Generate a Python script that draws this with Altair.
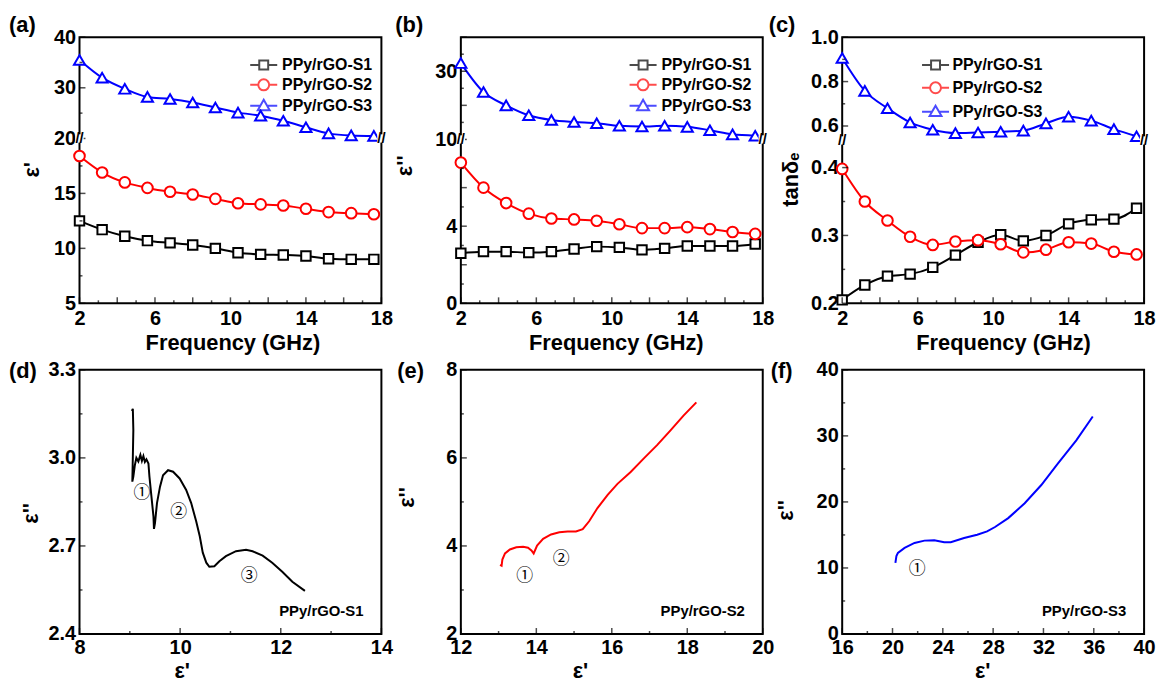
import altair as alt
import pandas as pd

FONT = "Liberation Sans"
CIRCLE_FONT = "Noto Sans CJK SC"

# ---------------- data ----------------
SERIES = ["PPy/rGO-S1", "PPy/rGO-S2", "PPy/rGO-S3"]
FREQ = [2.0, 3.2, 4.4, 5.6, 6.8, 8.0, 9.2, 10.4, 11.6, 12.8, 14.0, 15.2, 16.4, 17.6]

EPS_REAL_S1 = [12.5, 11.7, 11.1, 10.7, 10.5, 10.3, 10.0, 9.6, 9.45, 9.4, 9.3, 9.05, 9.0, 9.0]
EPS_REAL_S2 = [18.4, 16.9, 16.0, 15.5, 15.15, 14.9, 14.5, 14.1, 14.0, 13.9, 13.6, 13.3, 13.2, 13.1]
EPS_REAL_S3 = [35.5, 32.0, 29.8, 28.2, 27.8, 27.1, 26.1, 25.1, 24.5, 23.5, 22.2, 21.0, 20.6, 20.5]

EPS_IMAG_S1 = [2.6, 2.68, 2.68, 2.63, 2.68, 2.82, 2.94, 2.9, 2.77, 2.85, 2.97, 2.97, 2.97, 3.08]
EPS_IMAG_S2 = [7.3, 6.0, 5.2, 4.65, 4.4, 4.35, 4.28, 4.1, 3.9, 3.9, 3.95, 3.85, 3.7, 3.6]
EPS_IMAG_S3 = [32.4, 23.9, 20.0, 17.1, 15.7, 15.1, 14.75, 14.0, 13.8, 14.0, 13.7, 12.7, 11.5, 11.1]

TAN_S1 = [0.205, 0.227, 0.24, 0.243, 0.253, 0.271, 0.29, 0.301, 0.292, 0.3, 0.317, 0.323, 0.324, 0.34]
TAN_S2 = [0.398, 0.35, 0.322, 0.298, 0.286, 0.291, 0.293, 0.287, 0.275, 0.279, 0.29, 0.288, 0.276, 0.272]
TAN_S3 = [0.906, 0.758, 0.68, 0.616, 0.583, 0.568, 0.571, 0.574, 0.579, 0.612, 0.642, 0.624, 0.586, 0.554]

# Cole-Cole curves (from low to high frequency)
D_EPS_REAL = [12.48, 12.23, 12.03, 11.83, 11.64, 11.44, 11.31, 11.11, 10.91, 10.78, 10.68, 10.58,
              10.52, 10.45, 10.39, 10.32, 10.22, 10.12, 9.99, 9.86, 9.76, 9.66, 9.60, 9.54, 9.50,
              9.48, 9.47, 9.43, 9.39, 9.37, 9.33, 9.30, 9.27, 9.24, 9.21, 9.17, 9.13, 9.10, 9.07,
              9.05, 9.06, 9.07, 9.06, 9.04]
D_EPS_IMAG = [2.547, 2.578, 2.612, 2.643, 2.667, 2.682, 2.687, 2.682, 2.665, 2.648, 2.631, 2.629,
              2.643, 2.677, 2.733, 2.783, 2.846, 2.891, 2.930, 2.953, 2.958, 2.941, 2.902, 2.846,
              2.778, 2.758, 2.800, 2.868, 2.936, 2.981, 2.995, 2.986, 3.006, 2.990, 3.010, 2.988,
              3.000, 2.975, 2.936, 2.919, 3.003, 3.094, 3.167, 3.160]

E_EPS_REAL = [18.24, 17.90, 17.55, 17.20, 16.85, 16.50, 16.15, 15.89, 15.62, 15.40, 15.23, 15.05,
              14.83, 14.61, 14.39, 14.18, 14.02, 13.93, 13.87, 13.78, 13.65, 13.47, 13.30, 13.17,
              13.10, 13.08, 13.04]
E_EPS_IMAG = [7.26, 6.96, 6.62, 6.29, 5.99, 5.68, 5.41, 5.16, 4.86, 4.56, 4.38, 4.33,
              4.33, 4.31, 4.26, 4.16, 4.01, 3.83, 3.90, 3.96, 3.98, 3.97, 3.92, 3.83,
              3.69, 3.55, 3.57]

F_EPS_REAL = [35.92, 34.61, 33.14, 31.83, 30.51, 29.20, 28.15, 27.52, 26.73, 25.69, 24.63, 24.11,
              23.32, 22.54, 21.75, 20.96, 20.43, 20.31, 20.23]
F_EPS_IMAG = [32.93, 29.32, 25.81, 22.56, 19.80, 17.55, 16.20, 15.54, 15.04, 14.54, 13.89, 13.89,
              14.19, 14.14, 13.79, 13.04, 12.29, 11.79, 10.78]

# circled annotations (data coordinates)
D_MARK_X = [9.24, 9.97, 11.37]
D_MARK_Y = [2.88, 2.814, 2.597]
D_MARK_T = ["①", "②", "③"]
E_MARK_X = [13.69, 14.66]
E_MARK_Y = [3.31, 3.71]
E_MARK_T = ["①", "②"]
F_MARK_X = [21.96]
F_MARK_Y = [9.88]
F_MARK_T = ["①"]

# ---------------- styles ----------------
COLORS = ["#000000", "#ff0000", "#0000ff"]
MARKERS = ["square", "circle", "triangle-up"]
MARKER_SIZES = [90, 115, 125]
LEGEND_PATHS = [
    "M-2.72,0H-0.9M0.9,0H2.72M-0.9,-0.9H0.9V0.9H-0.9Z",
    "M-2.72,0H-1.1M1.1,0H2.72M-1.1,0A1.1,1.1,0,1,0,1.1,0A1.1,1.1,0,1,0,-1.1,0Z",
    "M-2.72,0H-0.69M0.69,0H2.72M0,-1.2L1.2,0.9H-1.2Z",
]
X_MAJOR = [2, 4, 6, 8, 10, 12, 14, 16, 18]
X_MINOR = [3, 5, 7, 9, 11, 13, 15, 17]


def xticks(vals, xs, H, L):
    return alt.Chart(pd.DataFrame({"v": vals})).mark_tick(
        orient="vertical", size=L, thickness=1.5, color="black"
    ).encode(x=alt.X("v:Q", scale=xs), y=alt.value(H - L / 2))


def yticks(vals, ys, L):
    return alt.Chart(pd.DataFrame({"v": vals})).mark_tick(
        orient="horizontal", size=L, thickness=1.5, color="black"
    ).encode(y=alt.Y("v:Q", scale=ys), x=alt.value(L / 2))


def tag_mark(tag, tx, ty):
    return alt.Chart(pd.DataFrame({"t": [tag]})).mark_text(
        font=FONT, fontSize=22, fontWeight="bold", align="left", baseline="middle", color="black"
    ).encode(text="t:N", x=alt.value(tx), y=alt.value(ty))


def break_marks(brk, ys, W):
    d = alt.Chart(pd.DataFrame({"v": [brk]}))
    out = []
    for xp in (0, W):
        out.append(d.mark_point(shape="square", filled=True, color="white", size=70, opacity=1).encode(
            y=alt.Y("v:Q", scale=ys), x=alt.value(xp)))
        out.append(d.mark_text(text="//", font=FONT, fontSize=15, fontWeight="bold", color="black").encode(
            y=alt.Y("v:Q", scale=ys), x=alt.value(xp)))
    return out


def top_panel(tag, series_vals, ydom, yrng, ymajor, yminor, yfmt, ytitle, ytx, yty, xtx,
              brk, legx, legy, rowpad, laboff, W, tagx):
    H = 268
    rows = []
    for s, vals in zip(SERIES, series_vals):
        for f, v in zip(FREQ, vals):
            rows.append({"series": s, "freq": f, "val": v})
    df = pd.DataFrame(rows)
    xs = alt.Scale(domain=[2, 18], nice=False, zero=False)
    # piecewise (broken) y axis
    ys = alt.Scale(domain=ydom, range=yrng, nice=False, zero=False)
    xaxis = alt.Axis(values=X_MAJOR, format="d", title="Frequency (GHz)", labelOverlap=False,
                     labelSeparation=-100, labelFlush=False, titleX=xtx, titleY=30,
                     titleBaseline="top", titleAlign="center", labelPadding=5)
    yaxis = alt.Axis(values=ymajor, format=yfmt, title=ytitle, titleX=ytx, titleY=yty,
                     labelOverlap=False, labelSeparation=-100, labelFlush=False, titleAngle=270,
                     titleBaseline="bottom", titleAlign="center", labelPadding=4)
    layers = []
    for i, (s, col) in enumerate(zip(SERIES, COLORS)):
        sub = alt.Chart(df).transform_filter(alt.datum.series == s)
        if i == 0:
            enc = dict(x=alt.X("freq:Q", scale=xs, axis=xaxis), y=alt.Y("val:Q", scale=ys, axis=yaxis))
        else:
            enc = dict(x=alt.X("freq:Q", scale=xs), y=alt.Y("val:Q", scale=ys))
        layers.append(sub.mark_line(color=col, strokeWidth=2, interpolate="monotone").encode(**enc))
    for s, col, mk, ms in zip(SERIES, COLORS, MARKERS, MARKER_SIZES):
        sub = alt.Chart(df).transform_filter(alt.datum.series == s)
        layers.append(sub.mark_point(shape=mk, size=ms, filled=True, fill="white", stroke=col,
                                     strokeWidth=2, opacity=1).encode(
            x=alt.X("freq:Q", scale=xs), y=alt.Y("val:Q", scale=ys)))
    leg = alt.Legend(title=None, orient="none", legendX=legx, legendY=legy, labelFont=FONT,
                     labelFontSize=16, labelFontWeight="bold", labelColor="black", symbolSize=100,
                     symbolStrokeWidth=2, rowPadding=rowpad, labelOffset=laboff, padding=0)
    layers.append(alt.Chart(df).transform_filter("false").mark_point(size=100, strokeWidth=2, filled=False).encode(
        stroke=alt.Stroke("series:N", scale=alt.Scale(domain=SERIES, range=COLORS), legend=leg),
        shape=alt.Shape("series:N", scale=alt.Scale(domain=SERIES, range=LEGEND_PATHS), legend=leg)))
    layers.append(xticks(X_MAJOR, xs, H, 6))
    layers.append(xticks(X_MINOR, xs, H, 3))
    layers.append(yticks(ymajor, ys, 6))
    layers.append(yticks(yminor, ys, 3))
    layers += break_marks(brk, ys, W)
    layers.append(tag_mark(tag, tagx, -12))
    return alt.layer(*layers).properties(width=W, height=H)


def bottom_panel(tag, xv, yv, xdom, ydom, xmajor, xminor, ymajor, yminor, yfmt, color,
                 mx, my, mt, label, ytx, yty, xtx, W, tagx):
    H = 266
    df = pd.DataFrame({"i": list(range(len(xv))), "x": xv, "y": yv})
    xs = alt.Scale(domain=xdom, nice=False, zero=False)
    ys = alt.Scale(domain=ydom, nice=False, zero=False)
    xaxis = alt.Axis(values=xmajor, format="d", title="ε'", titleX=xtx, titleY=27,
                     labelOverlap=False, labelSeparation=-100, labelFlush=False,
                     titleBaseline="top", titleAlign="center", labelPadding=4)
    yaxis = alt.Axis(values=ymajor, format=yfmt, title="ε''", titleX=ytx, titleY=yty,
                     labelOverlap=False, labelSeparation=-100, labelFlush=False, titleAngle=270,
                     titleBaseline="bottom", titleAlign="center", labelPadding=4)
    layers = [
        alt.Chart(df).mark_line(color=color, strokeWidth=2).encode(
            x=alt.X("x:Q", scale=xs, axis=xaxis), y=alt.Y("y:Q", scale=ys, axis=yaxis),
            order="i:Q"),
        alt.Chart(pd.DataFrame({"x": mx, "y": my, "t": mt})).mark_text(
            font=CIRCLE_FONT, fontSize=17, color="black").encode(
            x=alt.X("x:Q", scale=xs), y=alt.Y("y:Q", scale=ys), text="t:N"),
        alt.Chart(pd.DataFrame({"t": [label]})).mark_text(
            font=FONT, fontSize=15, fontWeight="bold", align="right", baseline="middle", color="black").encode(
            text="t:N", x=alt.value(W - 18), y=alt.value(H - 23)),
        xticks(xmajor, xs, H, 6),
        xticks(xminor, xs, H, 3),
        yticks(ymajor, ys, 6),
        yticks(yminor, ys, 3),
        tag_mark(tag, tagx, 1),
    ]
    return alt.layer(*layers).properties(width=W, height=H)


pa = top_panel("(a)", [EPS_REAL_S1, EPS_REAL_S2, EPS_REAL_S3], [5, 20, 40], [268, 102, 0],
               [5, 10, 15, 20, 30, 40], [7.5, 12.5, 17.5, 25, 35], "d", "ε'", -36.5, 133, 154,
               20, 177.5, 20, 1, 10.5, 304, -71)
pb = top_panel("(b)", [EPS_IMAG_S1, EPS_IMAG_S2, EPS_IMAG_S3], [0, 8.5, 10, 40], [268, 103, 103, 0],
               [0, 2, 4, 6, 10, 20, 30, 40], [1, 3, 5, 7, 15, 25, 35], "d", "ε''", -44.5, 129, 156,
               9, 175.5, 20, 1, 10.5, 304, -66)
pc = top_panel("(c)", [TAN_S1, TAN_S2, TAN_S3], [0.2, 0.44, 0.535, 1.0], [268, 104, 104, 0],
               [0.2, 0.3, 0.4, 0.6, 0.8, 1.0], [0.25, 0.35, 0.7, 0.9], ".1f", "tanδₑ", -40, 143, 162,
               0.49, 86, 20, 4, 9, 304, -74)

pd_ = bottom_panel("(d)", D_EPS_REAL, D_EPS_IMAG, [8, 14], [2.4, 3.3], [8, 10, 12, 14], [9, 11, 13],
                   [2.4, 2.7, 3.0, 3.3], [2.55, 2.85, 3.15], ".1f", "#000000",
                   D_MARK_X, D_MARK_Y, D_MARK_T, "PPy/rGO-S1", -37.5, 144, 103, 304, -71)
pe = bottom_panel("(e)", E_EPS_REAL, E_EPS_IMAG, [12, 20], [2, 8], [12, 14, 16, 18, 20], [13, 15, 17, 19],
                  [2, 4, 6, 8], [3, 5, 7], "d", "#ff0000",
                  E_MARK_X, E_MARK_Y, E_MARK_T, "PPy/rGO-S2", -42.5, 128, 120, 304, -64)
pf = bottom_panel("(f)", F_EPS_REAL, F_EPS_IMAG, [16, 40], [0, 40], [16, 20, 24, 28, 32, 36, 40],
                  [18, 22, 26, 30, 34, 38], [0, 10, 20, 30, 40], [5, 15, 25, 35], "d", "#0000ff",
                  F_MARK_X, F_MARK_Y, F_MARK_T, "PPy/rGO-S3", -45.5, 141, 141, 304, -72)

chart = alt.concat(pa, pb, pc, pd_, pe, pf, columns=3,
                   spacing={"row": 67, "column": 80}, bounds="flush").resolve_scale(
    stroke="independent", shape="independent"
).resolve_legend(stroke="independent", shape="independent").properties(
    padding={"left": 0, "top": 3, "right": 0, "bottom": 0}, background="white"
).configure_axis(
    labelFont=FONT, labelFontSize=20, labelFontWeight="bold", labelColor="black",
    titleFont=FONT, titleFontSize=22, titleFontWeight="bold", titleColor="black",
    domain=False, ticks=False, grid=False, labelFlush=False, labelOverlap=False,
    labelSeparation=-100,
).configure_view(stroke="black", strokeWidth=2)

chart.save("out.html", embed_options={"renderer": "svg", "actions": False})
